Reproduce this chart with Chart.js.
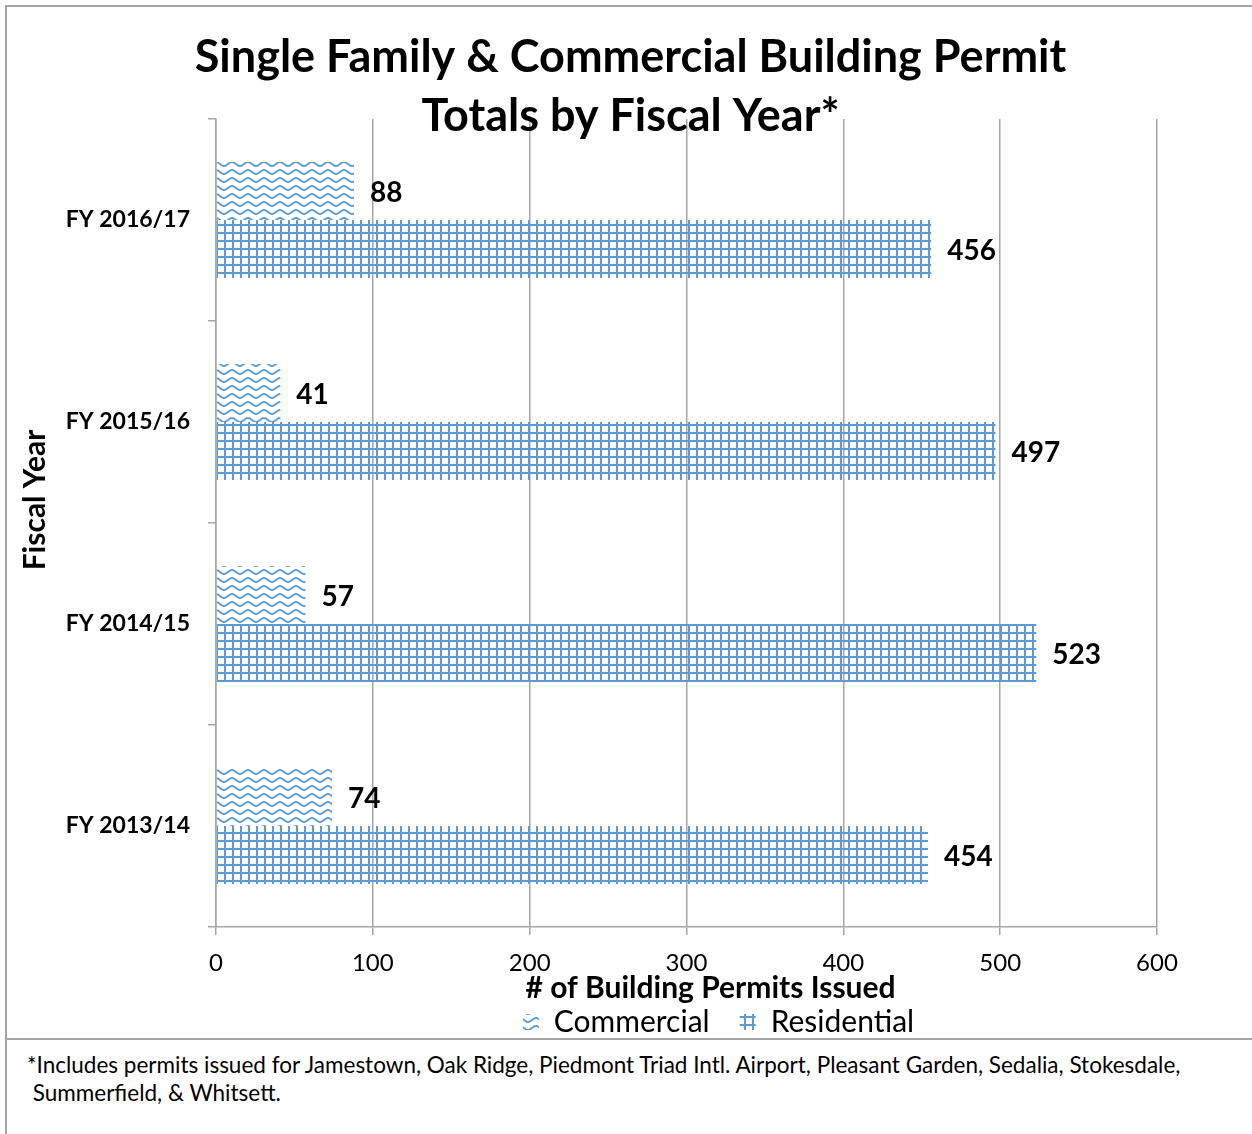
<!DOCTYPE html>
<html>
<head>
<meta charset="utf-8">
<title>Building Permit Totals</title>
<script src="https://cdn.jsdelivr.net/npm/chart.js@4.4.1/dist/chart.umd.min.js"></script>
<style>
  html, body { margin: 0; padding: 0; background: #fff; }
  body { width: 1252px; height: 1134px; position: relative; overflow: hidden; font-family: Lato, sans-serif; }
  #frame { position: absolute; left: 5px; top: 5px; width: 1250px; height: 1140px;
           border: 2px solid #a6a6a6; border-bottom: none; box-sizing: border-box; }
  #sep { position: absolute; left: 5px; top: 1038px; width: 1250px; height: 2px; background: #a6a6a6; }
  #wrap { position: absolute; left: 0; top: 0; }
  #note { position: absolute; left: 27px; top: 1051px; font-size: 22.5px; line-height: 28px; color: #000; }
</style>
</head>
<body>
<div id="frame"></div>
<div id="sep"></div>
<div id="wrap"><canvas id="permits" width="1252" height="1047"></canvas></div>
<div id="note">*Includes permits issued for Jamestown, Oak Ridge, Piedmont Triad Intl. Airport, Pleasant Garden, Sedalia, Stokesdale,<br>&nbsp;Summerfield, &amp; Whitsett.</div>
<script>
const titleLines = ['Single Family & Commercial Building Permit', 'Totals by Fiscal Year*'];
const fiscalYears = ['FY 2016/17', 'FY 2015/16', 'FY 2014/15', 'FY 2013/14'];
const commercial = [88, 41, 57, 74];
const residential = [456, 497, 523, 454];
const xTicks = [0, 100, 200, 300, 400, 500, 600];

const blue = '#5b9bd5';
const gray = '#a6a6a6';

Chart.defaults.font.family = 'Lato, sans-serif';
Chart.defaults.color = '#000';

// fill patterns: small grid for residential, waves for commercial
function gridPattern() {
    const c = document.createElement('canvas');
    c.width = 8; c.height = 8;
    const g = c.getContext('2d');
    g.fillStyle = blue;
    g.fillRect(0, 0, 2, 8);
    g.fillRect(0, 0, 8, 2);
    return g.createPattern(c, 'repeat');
}

function wavePattern() {
    const c = document.createElement('canvas');
    c.width = 16; c.height = 8;
    const g = c.getContext('2d');
    g.strokeStyle = blue;
    g.lineWidth = 1.8;
    g.beginPath();
    for (let x = -1; x <= 17; x++) {
        const y = 4 + 2 * Math.cos(2 * Math.PI * x / 16);
        if (x === -1) g.moveTo(x, y); else g.lineTo(x, y);
    }
    g.stroke();
    return g.createPattern(c, 'repeat');
}

// value printed just past the end of each bar
const valueLabels = {
    id: 'valueLabels',
    afterDatasetsDraw(chart) {
        const ctx = chart.ctx;
        ctx.save();
        ctx.font = 'bold 28px Lato, sans-serif';
        ctx.fillStyle = '#000';
        ctx.textAlign = 'left';
        ctx.textBaseline = 'middle';
        chart.data.datasets.forEach((ds, i) => {
            chart.getDatasetMeta(i).data.forEach((bar, j) => {
                ctx.fillText(ds.data[j], bar.x + 16, bar.y + 2);
            });
        });
        ctx.restore();
    }
};

// title, legend and axis titles are not centred on the plot; push them over
const nudge = {
    id: 'nudge',
    afterLayout(chart) {
        chart.titleBlock.left += 52;
        chart.titleBlock.right += 52;
        chart.legend.left += 140;
        chart.legend.right += 140;
        [['x', 24, 0], ['y', 0, -23]].forEach(([id, dx, dy]) => {
            const s = chart.scales[id];
            if (s._nudged) return;
            const drawTitle = s.drawTitle.bind(s);
            s.drawTitle = () => {
                s.ctx.save();
                s.ctx.translate(dx, dy);
                drawTitle();
                s.ctx.restore();
            };
            s._nudged = true;
        });
    }
};

const ctx = document.getElementById('permits').getContext('2d');

const myChart = new Chart(ctx, {
    type: 'bar',
    data: {
        labels: fiscalYears,
        datasets: [{
            label: 'Commercial',
            data: commercial,
            backgroundColor: wavePattern(),
            borderWidth: 0,
            categoryPercentage: 0.575,
            barPercentage: 1.0
        }, {
            label: 'Residential',
            data: residential,
            backgroundColor: gridPattern(),
            borderWidth: 0,
            categoryPercentage: 0.575,
            barPercentage: 1.0
        }]
    },
    plugins: [valueLabels, nudge],
    options: {
        responsive: false,
        animation: false,
        indexAxis: 'y',
        layout: { padding: { left: 0, right: 95, top: 0, bottom: 0 } },
        scales: {
            x: {
                min: xTicks[0],
                max: xTicks[xTicks.length - 1],
                afterBuildTicks: s => { s.ticks = xTicks.map(v => ({ value: v })); },
                afterFit: s => { s.height = 50; },
                grid: { color: gray, lineWidth: 1.5, tickLength: 8 },
                border: { color: gray, width: 1.5 },
                ticks: { font: { size: 24 }, color: '#000', padding: 14 },
                title: {
                    display: true,
                    text: '# of Building Permits Issued',
                    font: { size: 30, weight: 'bold' },
                    color: '#000',
                    padding: { top: 0, bottom: -29 }
                }
            },
            y: {
                afterFit: s => { s.width = 216; },
                grid: { color: gray, lineWidth: 1.5, tickLength: 8, drawOnChartArea: false },
                border: { color: gray, width: 1.5 },
                ticks: { font: { size: 23, weight: 'bold' }, color: '#000', padding: 18 },
                title: {
                    display: true,
                    text: 'Fiscal Year',
                    font: { size: 30, weight: 'bold' },
                    color: '#000',
                    padding: { top: 17, bottom: 0 }
                }
            }
        },
        plugins: {
            title: {
                display: true,
                text: titleLines,
                font: { size: 45, weight: 'bold', lineHeight: '59px' },
                color: '#000',
                padding: { top: 28, bottom: -27 }
            },
            legend: {
                position: 'bottom',
                labels: {
                    font: { size: 30 },
                    color: '#000',
                    boxWidth: 16,
                    boxHeight: 16,
                    padding: 30
                }
            },
            tooltip: { enabled: false }
        }
    }
});
</script>
</body>
</html>
